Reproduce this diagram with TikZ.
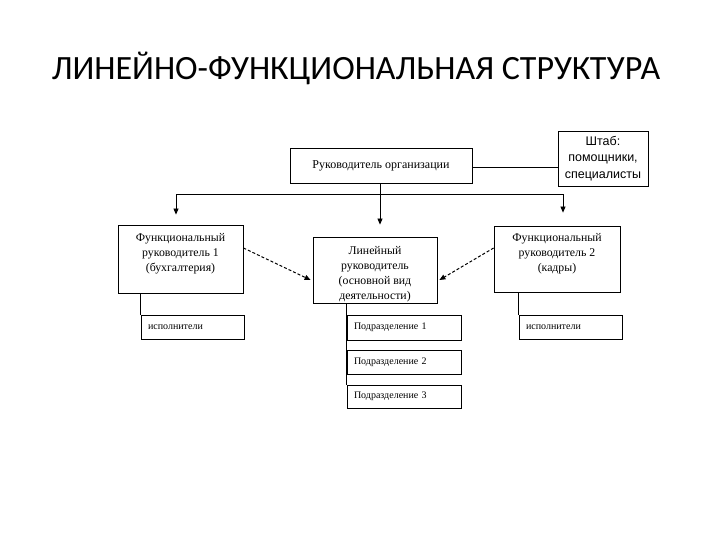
\documentclass[tikz,border=0pt]{standalone}
\usepackage{fontspec}
\setmainfont{Liberation Serif}
\newfontfamily\arialf{Liberation Sans}
\newfontfamily\titlef{Carlito}
\usetikzlibrary{arrows.meta,calc}
\begin{document}
\begin{tikzpicture}[x=1pt,y=-1pt,
  box/.style={draw,line width=0.8pt,inner sep=0pt},
  btext/.style={align=center,font=\fontsize{11.8}{15}\selectfont,inner sep=0pt},
  small/.style={box,align=left,font=\fontsize{10}{12}\selectfont,inner xsep=7pt},
  line/.style={line width=0.8pt},
  arr/.style={line width=0.8pt,-{Triangle[length=6pt,width=5pt]}},
  darr/.style={line width=1pt,dashed,dash pattern=on 3pt off 2pt,-{Triangle[length=6pt,width=5pt]}}]
\useasboundingbox (0,0) rectangle (720,540);
\node[font=\titlef\fontsize{34}{40}\selectfont] (title) at (356,68) {ЛИНЕЙНО-ФУНКЦИОНАЛЬНАЯ СТРУКТУРА};
% boxes
\node[box,minimum width=182pt,minimum height=35pt,font=\fontsize{12}{14}\selectfont] (ruk) at (381,165.5) {\raisebox{2pt}{Руководитель организации}};
\node[box,minimum width=90pt,minimum height=55pt,align=center,font=\arialf\fontsize{12.5}{16.5}\selectfont] (shtab) at (603,158.5) {Штаб:\\помощники,\\специалисты};
\node[box,minimum width=125pt,minimum height=68pt] (f1) at (180.5,259) {};
\node[btext,anchor=north] (f1t) at ($(f1.north)+(0,9)$) {Функциональный\\руководитель 1\\(бухгалтерия)};
\node[box,minimum width=124pt,minimum height=66pt] (lin) at (375,270) {};
\node[btext,anchor=center] (lint) at ($(lin.center)+(0,4)$) {Линейный\\руководитель\\(основной вид\\деятельности)};
\node[box,minimum width=126pt,minimum height=66pt] (f2) at (557,259) {};
\node[btext,anchor=north] (f2t) at ($(f2.north)+(0,8)$) {Функциональный\\руководитель 2\\(кадры)};
\node[small,text width=89pt,minimum height=24pt] (isp1) at (192.5,327) {\raisebox{-1.5pt}{исполнители}};
\node[small,text width=100pt,minimum height=25pt] (p1) at (404,327.5) {\raisebox{-1.5pt}{Подразделение 1}};
\node[small,text width=100pt,minimum height=24pt] (p2) at (404,362) {\raisebox{-1.5pt}{Подразделение 2}};
\node[small,text width=100pt,minimum height=23pt] (p3) at (404,396.5) {\raisebox{-1.5pt}{Подразделение 3}};
\node[small,text width=89pt,minimum height=24pt] (isp2) at (570.5,327) {\raisebox{-1.5pt}{исполнители}};
% bus
\coordinate (busL) at (176,194);
\coordinate (busM) at (380,194);
\coordinate (busR) at (563,194);
\draw[line] (ruk.east |- 0,167) -- (shtab.west |- 0,167);
\draw[line] (ruk.south -| busM) -- (busM);
\draw[arr,shorten >=10pt] (busM) -- (busL) -- (busL |- f1.north);
\draw[arr,shorten >=12pt] (busM) -- (busM |- lin.north);
\draw[arr,shorten >=13pt] (busM) -- (busR) -- (busR |- f2.north);
% dashed
\draw[darr] ($(f1.east)+(0,-11)$) -- ($(lin.west)+(-2,10)$);
\draw[darr] ($(f2.west)+(0,-11)$) -- ($(lin.east)+(2,10)$);
% verticals
\draw[line] (isp1.north west |- f1.south) -- (isp1.north west);
\draw[line] (p1.north west |- lin.south) -- (p3.north west);
\draw[line] (isp2.north west |- f2.south) -- (isp2.north west);
\end{tikzpicture}
\end{document}
